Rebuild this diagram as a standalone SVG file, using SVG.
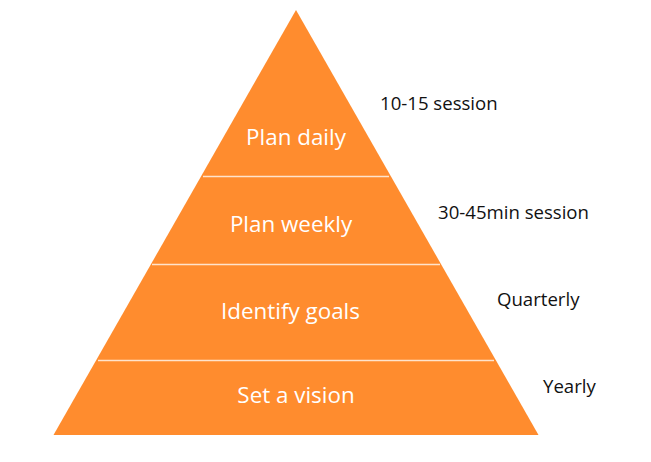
<svg xmlns="http://www.w3.org/2000/svg" width="651" height="462" viewBox="0 0 651 462">
<style>
.layer{fill:#FF8C2E;}
.sep{stroke:#FFE3CC;stroke-width:1.5;}
.in{font-family:"Open Sans",sans-serif;font-size:22.4px;fill:#FFFFFF;text-anchor:middle;}
.out{font-family:"Open Sans",sans-serif;font-size:18.6px;fill:#111111;}
</style>
<rect width="651" height="462" fill="#FFFFFF"/>
<g id="pyramid">
<polygon class="layer" points="296,10 538.5,435 53.5,435"/>
</g>
<g id="connectors">
<line class="sep" x1="203" y1="176.5" x2="389" y2="176.5"/>
<line class="sep" x1="152" y1="264.5" x2="440" y2="264.5"/>
<line class="sep" x1="98" y1="360.5" x2="494" y2="360.5"/>
</g>
<g id="plan-daily"><text class="in" x="296" y="145">Plan daily</text></g>
<g id="plan-weekly"><text class="in" x="291" y="232">Plan weekly</text></g>
<g id="identify-goals"><text class="in" x="290.5" y="319">Identify goals</text></g>
<g id="set-vision"><text class="in" x="296" y="403">Set a vision</text></g>
<g id="label-1"><text class="out" x="380" y="110">10-15 session</text></g>
<g id="label-2"><text class="out" x="438" y="219">30-45min session</text></g>
<g id="label-3"><text class="out" x="497" y="306">Quarterly</text></g>
<g id="label-4"><text class="out" x="543" y="393">Yearly</text></g>
</svg>
